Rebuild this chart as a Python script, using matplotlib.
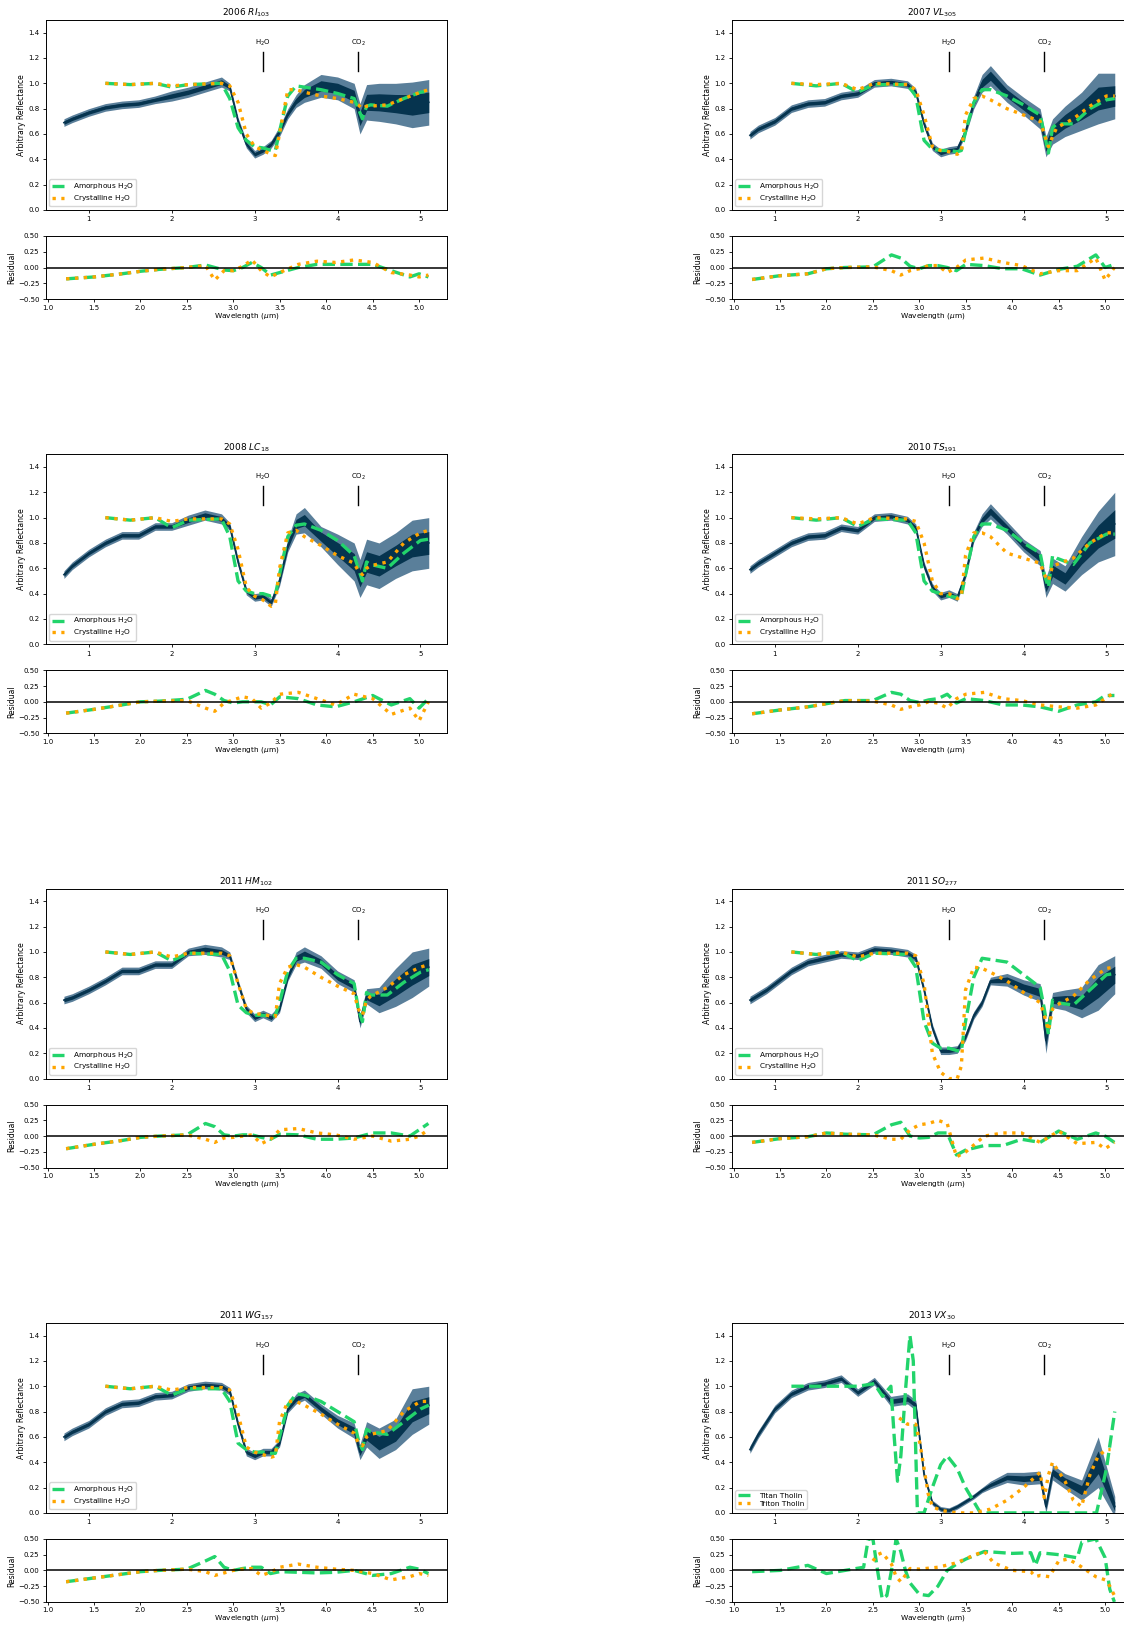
import matplotlib
matplotlib.use('Agg')
import matplotlib.pyplot as plt

# wavelength grids (micron)
specWl = [0.7, 0.8, 0.9, 1.0, 1.2, 1.4, 1.6, 1.8, 2.0, 2.2, 2.4, 2.6, 2.7, 2.8, 2.9, 3.0,
          3.1, 3.2, 3.3, 3.4, 3.5, 3.6, 3.8, 4.0, 4.2, 4.27, 4.35, 4.5, 4.7, 4.9, 5.1]
modelWl = [1.2, 1.5, 1.8, 2.0, 2.2, 2.6, 2.7, 2.8, 2.9, 3.0, 3.1, 3.2, 3.25, 3.3, 3.4, 3.5,
           3.6, 3.8, 4.0, 4.2, 4.25, 4.3, 4.35, 4.4, 4.6, 4.8, 5.0, 5.1]
resWl = [1.2, 1.5, 1.8, 2.0, 2.2, 2.5, 2.7, 2.8, 2.9, 3.0, 3.1, 3.2, 3.3, 3.4, 3.5, 3.7,
         3.9, 4.1, 4.3, 4.5, 4.7, 4.9, 5.0, 5.1]

# 2006 RI103
ri103Spec = [0.69, 0.72, 0.745, 0.77, 0.81, 0.83, 0.84, 0.87, 0.90, 0.93, 0.97, 1.01, 0.97, 0.70, 0.52, 0.44,
             0.47, 0.52, 0.62, 0.76, 0.86, 0.92, 0.98, 0.96, 0.90, 0.72, 0.85, 0.85, 0.84, 0.83, 0.85]
ri103Noise = [0.03, 0.03, 0.03, 0.03, 0.03, 0.03, 0.03, 0.03, 0.04, 0.04, 0.04, 0.04, 0.03, 0.03, 0.03, 0.03,
              0.03, 0.03, 0.04, 0.04, 0.05, 0.07, 0.09, 0.09, 0.10, 0.12, 0.14, 0.15, 0.16, 0.18, 0.18]
ri103Amo = [1.0, 0.99, 1.0, 0.97, 0.99, 1.0, 0.88, 0.65, 0.55, 0.50, 0.49, 0.47, 0.47, 0.62, 0.90, 0.98,
            0.97, 0.95, 0.92, 0.88, 0.80, 0.72, 0.82, 0.83, 0.82, 0.88, 0.93, 0.94]
ri103Cry = [1.0, 0.99, 1.0, 0.98, 0.99, 1.0, 0.98, 0.85, 0.60, 0.50, 0.47, 0.44, 0.43, 0.60, 0.95, 0.95,
            0.93, 0.90, 0.88, 0.85, 0.83, 0.80, 0.82, 0.82, 0.83, 0.88, 0.93, 0.95]
ri103ResAmo = [-0.18, -0.15, -0.10, -0.06, -0.03, 0.0, 0.04, 0.0, -0.04, -0.05, 0.0, 0.08, 0.0, -0.12, -0.08, 0.0,
               0.05, 0.05, 0.05, 0.05, -0.05, -0.15, -0.10, -0.15]
ri103ResCry = [-0.18, -0.15, -0.10, -0.06, -0.03, 0.0, 0.03, -0.20, -0.05, -0.05, 0.02, 0.12, -0.05, -0.15, -0.08, 0.05,
               0.10, 0.08, 0.12, 0.08, -0.08, -0.12, -0.15, -0.12]

# 2007 VL305
vl305Spec = [0.59, 0.64, 0.67, 0.70, 0.80, 0.84, 0.85, 0.90, 0.92, 1.0, 1.01, 0.99, 0.93, 0.68, 0.50, 0.45,
             0.47, 0.48, 0.62, 0.85, 1.0, 1.06, 0.92, 0.82, 0.72, 0.50, 0.62, 0.70, 0.78, 0.88, 0.90]
vl305Noise = [0.03, 0.03, 0.03, 0.03, 0.03, 0.03, 0.03, 0.03, 0.03, 0.03, 0.03, 0.03, 0.03, 0.03, 0.03, 0.03,
              0.03, 0.03, 0.03, 0.05, 0.07, 0.08, 0.07, 0.07, 0.08, 0.08, 0.10, 0.12, 0.15, 0.20, 0.18]
vl305Amo = [1.0, 0.98, 1.0, 0.93, 0.99, 0.99, 0.90, 0.55, 0.48, 0.47, 0.47, 0.46, 0.47, 0.62, 0.85, 0.95,
            0.95, 0.90, 0.83, 0.75, 0.60, 0.45, 0.65, 0.68, 0.68, 0.80, 0.87, 0.88]
vl305Cry = [1.0, 0.99, 1.0, 0.95, 1.0, 0.99, 0.95, 0.75, 0.50, 0.47, 0.46, 0.44, 0.46, 0.75, 0.88, 0.90,
            0.87, 0.80, 0.75, 0.70, 0.60, 0.50, 0.58, 0.65, 0.72, 0.82, 0.90, 0.90]
vl305ResAmo = [-0.19, -0.13, -0.10, -0.02, 0.0, 0.01, 0.20, 0.15, 0.02, -0.02, 0.03, 0.03, 0.0, -0.05, 0.05, 0.03,
               -0.02, -0.02, -0.12, -0.03, 0.02, 0.20, 0.0, 0.05]
vl305ResCry = [-0.19, -0.13, -0.10, -0.02, 0.0, 0.01, -0.05, -0.12, -0.05, -0.02, 0.03, 0.03, -0.08, 0.0, 0.12, 0.15,
               0.08, 0.03, -0.10, -0.05, -0.05, 0.15, -0.20, 0.0]

# 2008 LC18
lc18Spec = [0.55, 0.62, 0.67, 0.72, 0.80, 0.86, 0.86, 0.93, 0.93, 0.98, 1.02, 0.99, 0.93, 0.65, 0.42, 0.37,
            0.38, 0.33, 0.50, 0.78, 0.95, 0.98, 0.85, 0.75, 0.65, 0.52, 0.65, 0.62, 0.70, 0.78, 0.80]
lc18Noise = [0.03, 0.03, 0.03, 0.03, 0.03, 0.03, 0.03, 0.03, 0.03, 0.04, 0.04, 0.04, 0.03, 0.03, 0.03, 0.03,
             0.03, 0.03, 0.04, 0.05, 0.08, 0.10, 0.08, 0.12, 0.15, 0.15, 0.18, 0.18, 0.18, 0.20, 0.20]
lc18Amo = [1.0, 0.98, 1.0, 0.92, 0.98, 0.99, 0.85, 0.50, 0.42, 0.40, 0.40, 0.38, 0.39, 0.55, 0.85, 0.94,
           0.95, 0.90, 0.82, 0.70, 0.60, 0.50, 0.65, 0.63, 0.60, 0.72, 0.82, 0.83]
lc18Cry = [1.0, 0.98, 1.0, 0.97, 0.99, 0.99, 0.95, 0.75, 0.45, 0.38, 0.35, 0.30, 0.32, 0.60, 0.88, 0.90,
           0.85, 0.78, 0.70, 0.64, 0.58, 0.55, 0.60, 0.62, 0.65, 0.80, 0.88, 0.90]
lc18ResAmo = [-0.18, -0.12, -0.05, 0.0, 0.01, 0.04, 0.18, 0.12, 0.02, -0.02, 0.0, 0.0, 0.0, -0.05, 0.08, 0.05,
              -0.05, -0.08, 0.0, 0.10, -0.05, 0.05, -0.10, 0.05]
lc18ResCry = [-0.18, -0.12, -0.05, 0.0, 0.01, 0.02, -0.10, -0.15, -0.02, 0.03, 0.08, 0.05, -0.10, -0.02, 0.12, 0.15,
              0.05, -0.05, 0.12, 0.05, -0.20, -0.10, -0.30, 0.0]

# 2010 TS191
ts191Spec = [0.59, 0.64, 0.68, 0.72, 0.80, 0.85, 0.86, 0.92, 0.90, 1.0, 1.01, 0.98, 0.92, 0.62, 0.45, 0.38,
             0.40, 0.37, 0.55, 0.85, 0.98, 1.05, 0.92, 0.78, 0.68, 0.45, 0.58, 0.52, 0.70, 0.85, 0.95]
ts191Noise = [0.03, 0.03, 0.03, 0.03, 0.03, 0.03, 0.03, 0.03, 0.03, 0.03, 0.03, 0.03, 0.03, 0.03, 0.03, 0.03,
              0.03, 0.03, 0.03, 0.04, 0.05, 0.06, 0.05, 0.05, 0.06, 0.08, 0.10, 0.10, 0.15, 0.20, 0.25]
ts191Amo = [1.0, 0.98, 1.0, 0.93, 0.99, 0.98, 0.88, 0.50, 0.42, 0.40, 0.38, 0.37, 0.38, 0.55, 0.85, 0.95,
            0.95, 0.90, 0.80, 0.72, 0.55, 0.45, 0.70, 0.68, 0.63, 0.80, 0.87, 0.87]
ts191Cry = [1.0, 0.99, 1.0, 0.95, 1.0, 0.99, 0.97, 0.80, 0.50, 0.40, 0.40, 0.36, 0.38, 0.70, 0.88, 0.88,
            0.85, 0.72, 0.68, 0.64, 0.55, 0.50, 0.62, 0.63, 0.68, 0.80, 0.88, 0.88]
ts191ResAmo = [-0.19, -0.13, -0.08, -0.03, 0.02, 0.02, 0.15, 0.12, 0.02, -0.01, 0.03, 0.05, 0.12, -0.02, 0.05, 0.02,
               -0.05, -0.05, -0.08, -0.15, -0.05, 0.0, 0.10, 0.10]
ts191ResCry = [-0.19, -0.13, -0.08, -0.03, 0.02, 0.01, -0.05, -0.12, -0.08, -0.05, 0.0, -0.02, -0.10, 0.05, 0.12, 0.15,
               0.05, 0.02, -0.05, -0.08, -0.10, -0.05, 0.05, 0.15]

# 2011 HM102
hm102Spec = [0.62, 0.64, 0.67, 0.70, 0.77, 0.85, 0.85, 0.90, 0.90, 1.0, 1.02, 1.0, 0.97, 0.75, 0.55, 0.48,
             0.51, 0.48, 0.55, 0.80, 0.95, 0.98, 0.92, 0.80, 0.73, 0.45, 0.65, 0.62, 0.72, 0.82, 0.88]
hm102Noise = [0.03, 0.03, 0.03, 0.03, 0.03, 0.03, 0.03, 0.03, 0.03, 0.03, 0.04, 0.04, 0.03, 0.03, 0.03, 0.03,
              0.03, 0.03, 0.03, 0.03, 0.05, 0.06, 0.05, 0.05, 0.05, 0.05, 0.06, 0.10, 0.15, 0.18, 0.15]
hm102Amo = [1.0, 0.98, 1.0, 0.93, 0.99, 0.98, 0.85, 0.58, 0.52, 0.50, 0.50, 0.49, 0.50, 0.60, 0.85, 0.95,
            0.95, 0.92, 0.82, 0.75, 0.55, 0.45, 0.68, 0.66, 0.66, 0.76, 0.84, 0.86]
hm102Cry = [1.0, 0.98, 1.0, 0.96, 0.99, 0.99, 0.97, 0.75, 0.55, 0.51, 0.51, 0.49, 0.49, 0.75, 0.88, 0.90,
            0.88, 0.80, 0.73, 0.67, 0.55, 0.50, 0.62, 0.65, 0.72, 0.82, 0.88, 0.90]
hm102ResAmo = [-0.20, -0.13, -0.07, -0.02, 0.0, 0.02, 0.20, 0.15, 0.02, 0.0, 0.02, 0.02, -0.02, -0.05, 0.03, 0.02,
               -0.05, -0.05, -0.03, 0.05, 0.05, 0.0, 0.10, 0.20]
hm102ResCry = [-0.20, -0.13, -0.07, -0.02, 0.0, 0.02, -0.05, -0.10, -0.03, -0.02, 0.0, 0.02, -0.12, -0.05, 0.10, 0.12,
               0.05, 0.02, -0.05, 0.0, -0.08, -0.05, 0.0, 0.10]

# 2011 SO277
so277Spec = [0.62, 0.66, 0.70, 0.75, 0.85, 0.92, 0.95, 0.98, 0.97, 1.02, 1.01, 0.99, 0.95, 0.70, 0.40, 0.22,
             0.22, 0.23, 0.33, 0.50, 0.60, 0.77, 0.78, 0.72, 0.68, 0.30, 0.62, 0.62, 0.60, 0.72, 0.82]
so277Noise = [0.03, 0.03, 0.03, 0.03, 0.03, 0.03, 0.03, 0.03, 0.03, 0.03, 0.03, 0.03, 0.03, 0.03, 0.03, 0.03,
              0.03, 0.03, 0.03, 0.03, 0.03, 0.03, 0.05, 0.06, 0.07, 0.10, 0.06, 0.08, 0.12, 0.18, 0.15]
so277Amo = [1.0, 0.98, 1.0, 0.93, 0.99, 0.98, 0.88, 0.45, 0.28, 0.24, 0.24, 0.22, 0.22, 0.45, 0.80, 0.95,
            0.94, 0.92, 0.82, 0.72, 0.55, 0.35, 0.62, 0.60, 0.58, 0.70, 0.82, 0.83]
so277Cry = [1.0, 0.98, 1.0, 0.96, 0.99, 0.99, 0.97, 0.75, 0.20, 0.05, 0.0, 0.0, 0.10, 0.70, 0.88, 0.87,
            0.84, 0.77, 0.68, 0.60, 0.50, 0.38, 0.55, 0.58, 0.65, 0.78, 0.87, 0.88]
so277ResAmo = [-0.10, -0.04, -0.01, 0.05, 0.03, 0.02, 0.18, 0.22, 0.0, -0.03, -0.02, 0.05, 0.05, -0.30, -0.22, -0.15,
               -0.15, -0.05, -0.10, 0.08, -0.05, 0.05, 0.0, -0.10]
so277ResCry = [-0.10, -0.04, -0.01, 0.05, 0.03, 0.02, -0.05, -0.05, 0.10, 0.18, 0.20, 0.25, 0.20, -0.33, -0.25, 0.0,
               0.05, 0.05, -0.10, 0.08, -0.12, -0.10, -0.20, -0.10]

# 2011 WG157
wg157Spec = [0.60, 0.64, 0.67, 0.70, 0.80, 0.86, 0.87, 0.92, 0.93, 0.99, 1.01, 1.0, 0.96, 0.70, 0.48, 0.45,
             0.48, 0.48, 0.55, 0.82, 0.90, 0.93, 0.82, 0.72, 0.65, 0.48, 0.62, 0.55, 0.62, 0.80, 0.85]
wg157Noise = [0.03, 0.03, 0.03, 0.03, 0.03, 0.03, 0.03, 0.03, 0.03, 0.03, 0.03, 0.03, 0.03, 0.03, 0.03, 0.03,
              0.03, 0.03, 0.03, 0.03, 0.04, 0.04, 0.04, 0.05, 0.06, 0.06, 0.10, 0.12, 0.12, 0.18, 0.15]
wg157Amo = [1.0, 0.98, 1.0, 0.93, 0.98, 0.98, 0.88, 0.55, 0.50, 0.48, 0.48, 0.47, 0.47, 0.60, 0.85, 0.94,
            0.93, 0.88, 0.80, 0.72, 0.58, 0.50, 0.66, 0.64, 0.62, 0.72, 0.82, 0.85]
wg157Cry = [1.0, 0.98, 1.0, 0.97, 0.99, 0.99, 0.97, 0.78, 0.52, 0.48, 0.46, 0.44, 0.45, 0.72, 0.88, 0.88,
            0.85, 0.78, 0.70, 0.63, 0.55, 0.53, 0.60, 0.62, 0.65, 0.80, 0.88, 0.88]
wg157ResAmo = [-0.18, -0.12, -0.06, -0.02, 0.0, 0.02, 0.15, 0.22, 0.05, 0.0, 0.03, 0.05, 0.05, -0.05, -0.02, -0.03,
               -0.04, -0.03, 0.0, -0.08, -0.05, 0.05, 0.02, -0.05]
wg157ResCry = [-0.18, -0.12, -0.06, -0.02, 0.0, 0.02, -0.02, -0.08, -0.04, 0.0, 0.02, 0.03, -0.08, -0.03, 0.05, 0.10,
               0.05, 0.02, 0.0, -0.05, -0.15, -0.10, -0.05, -0.08]

# 2013 VX30 (tholin fits, own grids)
vx30Spec = [0.50, 0.62, 0.72, 0.82, 0.94, 1.0, 1.02, 1.06, 0.95, 1.04, 0.88, 0.90, 0.85, 0.30, 0.08, 0.03,
            0.02, 0.05, 0.09, 0.13, 0.18, 0.22, 0.28, 0.27, 0.28, 0.05, 0.32, 0.25, 0.18, 0.40, 0.05]
vx30Noise = [0.03, 0.03, 0.03, 0.03, 0.03, 0.03, 0.03, 0.03, 0.03, 0.03, 0.04, 0.04, 0.04, 0.03, 0.02, 0.02,
             0.02, 0.02, 0.02, 0.02, 0.02, 0.03, 0.04, 0.05, 0.05, 0.05, 0.06, 0.06, 0.08, 0.20, 0.08]
titanWl = [1.2, 1.5, 1.8, 2.0, 2.2, 2.3, 2.4, 2.44, 2.48, 2.52, 2.58, 2.63, 2.67, 2.72, 2.8, 2.9,
           3.0, 3.08, 3.2, 3.3, 3.48, 4.0, 4.88, 5.0, 5.1]
titanTholin = [1.0, 1.0, 1.0, 1.0, 1.02, 0.92, 1.0, 0.6, 0.25, 0.45, 1.0, 1.4, 1.2, 0.0, 0.0, 0.2,
               0.38, 0.45, 0.35, 0.2, 0.0, 0.0, 0.0, 0.35, 0.8]
tritonWl = [2.5, 2.6, 2.7, 2.75, 2.8, 2.85, 2.9, 3.0, 3.2, 3.4, 3.6, 3.8, 4.0, 4.2, 4.25, 4.3,
            4.35, 4.5, 4.6, 4.7, 4.8, 4.9, 5.0, 5.05]
tritonTholin = [0.75, 0.70, 0.70, 0.55, 0.35, 0.15, 0.05, 0.02, 0.0, 0.0, 0.03, 0.10, 0.20, 0.32, 0.12, 0.30,
                0.40, 0.25, 0.10, 0.05, 0.30, 0.45, 0.50, 0.50]
titanResWl = [1.2, 1.5, 1.8, 2.0, 2.2, 2.4, 2.45, 2.5, 2.55, 2.6, 2.65, 2.7, 2.75, 2.8, 2.85, 2.9, 3.0,
              3.1, 3.2, 3.3, 3.4, 3.5, 3.7, 4.0, 4.2, 4.25, 4.3, 4.5, 4.7, 4.75, 4.9, 5.0, 5.05, 5.1]
titanRes = [-0.02, 0.0, 0.08, -0.05, 0.0, 0.05, 0.5, 0.5, 0.0, -0.45, -0.4, 0.0, 0.5, 0.3, 0.0, -0.2, -0.38,
            -0.4, -0.25, 0.0, 0.1, 0.18, 0.3, 0.27, 0.28, 0.08, 0.28, 0.25, 0.2, 0.45, 0.5, 0.2, -0.3, -0.5]
tritonResWl = [2.5, 2.55, 2.6, 2.7, 2.75, 2.8, 2.9, 3.0, 3.2, 3.4, 3.6, 3.7, 3.8, 4.0, 4.2, 4.25,
               4.3, 4.4, 4.5, 4.6, 4.7, 4.8, 4.9, 5.0, 5.05, 5.1]
tritonRes = [0.15, 0.25, 0.28, 0.1, -0.1, -0.18, 0.03, 0.02, 0.05, 0.12, 0.25, 0.3, 0.12, 0.0, -0.02, -0.1,
             -0.08, -0.1, 0.15, 0.18, 0.1, 0.0, -0.1, -0.15, -0.25, -0.4]

h2oLabels = ['Amorphous H$_2$O', 'Crystalline H$_2$O']
tholinLabels = ['Titan Tholin', 'Triton Tholin']

panels = [
    ('2006 $RI_{103}$', ri103Spec, ri103Noise, modelWl, ri103Amo, modelWl, ri103Cry,
     resWl, ri103ResAmo, resWl, ri103ResCry, h2oLabels),
    ('2007 $VL_{305}$', vl305Spec, vl305Noise, modelWl, vl305Amo, modelWl, vl305Cry,
     resWl, vl305ResAmo, resWl, vl305ResCry, h2oLabels),
    ('2008 $LC_{18}$', lc18Spec, lc18Noise, modelWl, lc18Amo, modelWl, lc18Cry,
     resWl, lc18ResAmo, resWl, lc18ResCry, h2oLabels),
    ('2010 $TS_{191}$', ts191Spec, ts191Noise, modelWl, ts191Amo, modelWl, ts191Cry,
     resWl, ts191ResAmo, resWl, ts191ResCry, h2oLabels),
    ('2011 $HM_{102}$', hm102Spec, hm102Noise, modelWl, hm102Amo, modelWl, hm102Cry,
     resWl, hm102ResAmo, resWl, hm102ResCry, h2oLabels),
    ('2011 $SO_{277}$', so277Spec, so277Noise, modelWl, so277Amo, modelWl, so277Cry,
     resWl, so277ResAmo, resWl, so277ResCry, h2oLabels),
    ('2011 $WG_{157}$', wg157Spec, wg157Noise, modelWl, wg157Amo, modelWl, wg157Cry,
     resWl, wg157ResAmo, resWl, wg157ResCry, h2oLabels),
    ('2013 $VX_{30}$', vx30Spec, vx30Noise, titanWl, titanTholin, tritonWl, tritonTholin,
     titanResWl, titanRes, tritonResWl, tritonRes, tholinLabels),
]

navy = '#06344f'
navyLight = '#5a7f9a'
green = '#22d46b'
orange = '#ffa500'

plt.rcParams['font.size'] = 5.5
plt.rcParams['axes.linewidth'] = 0.7
plt.rcParams['xtick.major.size'] = 2.5
plt.rcParams['ytick.major.size'] = 2.5
plt.rcParams['xtick.major.width'] = 0.6
plt.rcParams['ytick.major.width'] = 0.6
plt.rcParams['xtick.major.pad'] = 2
plt.rcParams['ytick.major.pad'] = 2
plt.rcParams['xtick.labelsize'] = 5
plt.rcParams['ytick.labelsize'] = 5

W, H = 1124, 1625
fig = plt.figure(figsize=(W / 100, H / 100), dpi=100)

axW = 401.3
lefts = [45.7, 731.7]
rowStep = 434.3

for i, p in enumerate(panels):
    (title, spec, noise, wlA, fitA, wlB, fitB, rwA, resA, rwB, resB, labels) = p
    row, col = i // 2, i % 2
    top = 20 + rowStep * row
    x0 = lefts[col] / W
    ax1 = fig.add_axes([x0, 1 - (top + 190) / H, axW / W, 190 / H])
    ax2 = fig.add_axes([x0, 1 - (top + 279) / H, axW / W, 63 / H])

    lo = [s - n for s, n in zip(spec, noise)]
    hi = [s + n for s, n in zip(spec, noise)]
    loIn = [s - 0.45 * n for s, n in zip(spec, noise)]
    hiIn = [s + 0.45 * n for s, n in zip(spec, noise)]
    ax1.fill_between(specWl, lo, hi, color=navyLight, lw=0)
    ax1.fill_between(specWl, loIn, hiIn, color=navy, lw=0)
    ax1.plot(specWl, spec, color=navy, lw=1.2)
    ax1.plot(wlA, fitA, color=green, ls='--', lw=2.4, label=labels[0])
    ax1.plot(wlB, fitB, color=orange, ls=':', lw=2.4, label=labels[1])

    # absorption band markers
    for xm, name in [(3.1, 'H$_2$O'), (4.25, 'CO$_2$')]:
        ax1.plot([xm, xm], [1.10, 1.25], color='black', lw=1.0)
        ax1.text(xm, 1.28, name, ha='center', va='bottom', fontsize=5)

    ax1.set_xlim(0.48, 5.32)
    ax1.set_ylim(0, 1.5)
    ax1.set_xticks([1, 2, 3, 4, 5])
    ax1.set_yticks([0.0, 0.2, 0.4, 0.6, 0.8, 1.0, 1.2, 1.4])
    ax1.set_ylabel('Arbitrary Reflectance', fontsize=5.5, labelpad=1.5)
    ax1.set_title(title, fontsize=6.5, pad=3)
    ax1.legend(loc='lower left', fontsize=5.3, handlelength=1.6, handletextpad=1.2,
               borderpad=0.35, labelspacing=0.2)

    ax2.plot(rwA, resA, color=green, ls='--', lw=2.4)
    ax2.plot(rwB, resB, color=orange, ls=':', lw=2.4)
    ax2.axhline(0, color='black', lw=1.1)
    ax2.set_xlim(0.98, 5.30)
    ax2.set_ylim(-0.5, 0.5)
    ax2.set_yticks([-0.5, -0.25, 0.0, 0.25, 0.5])
    ax2.tick_params(axis='x', pad=1.5)
    ax2.set_ylabel('Residual', fontsize=5.5, labelpad=1.5)
    ax2.set_xlabel('Wavelength ($\\mu$m)', fontsize=5.3, labelpad=0)

fig.savefig('out.png', dpi=100)
